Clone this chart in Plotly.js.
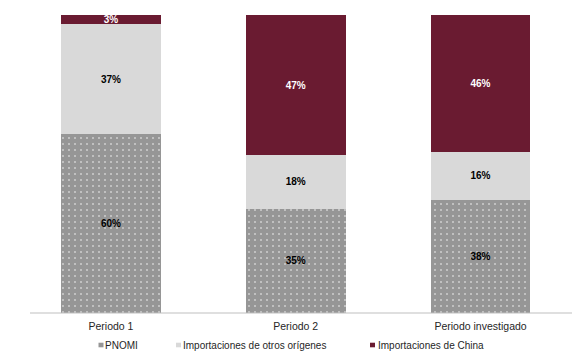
<!DOCTYPE html>
<html>
<head>
<meta charset="utf-8">
<script src="https://cdn.plot.ly/plotly-3.0.1.min.js"></script>
<style>
  html, body { margin: 0; padding: 0; background: #ffffff; }
  #chart { width: 586px; height: 354px; }
</style>
</head>
<body>
<div id="chart"></div>
<script>
// ---- data ----
var categories = ["Periodo 1", "Periodo 2", "Periodo investigado"];
var seriesNames = ["PNOMI", "Importaciones de otros orígenes", "Importaciones de China"];
var pnomi = [60, 35, 38];
var otros = [37, 18, 16];
var china = [3, 47, 46];

// ---- styles ----
var colors = ["#969696", "#d9d9d9", "#6a1b31"];
var textColors = ["#000000", "#000000", "#ffffff"];
var values = [pnomi, otros, china];
var FONT = "Liberation Sans, Arial, sans-serif";

var traces = values.map(function (vals, i) {
  var marker = { color: colors[i], line: { width: 0 } };
  if (i === 0) {
    marker.pattern = { shape: ".", bgcolor: colors[0], fgcolor: "#ffffff", size: 6, solidity: 0.1, fillmode: "overlay" };
  }
  return {
    type: "bar",
    name: seriesNames[i],
    x: categories,
    y: vals,
    width: 0.54,
    marker: marker,
    text: vals.map(function (v) { return v + "%"; }),
    textposition: "inside",
    insidetextanchor: "middle",
    constraintext: "none",
    textfont: { family: FONT, size: 10, color: textColors[i], weight: "bold" },
    hoverinfo: "skip",
    showlegend: false
  };
});

// custom legend (small square markers + labels)
var legendSquares = [0.1264, 0.2694, 0.6273];
var legendText = [0.1384, 0.2828, 0.6415];
var sqW = 0.0092;
var shapes = [
  { type: "line", xref: "paper", yref: "paper", x0: 0, x1: 1, y0: 0, y1: 0,
    line: { color: "#bfbfbf", width: 1 } }
];
var annotations = [];
seriesNames.forEach(function (name, i) {
  shapes.push({ type: "rect", xref: "paper", yref: "paper",
    x0: legendSquares[i], x1: legendSquares[i] + sqW, y0: -0.1151, y1: -0.0997,
    fillcolor: colors[i], line: { width: 0 } });
  annotations.push({ xref: "paper", yref: "paper", x: legendText[i], y: -0.1074,
    xanchor: "left", yanchor: "middle", showarrow: false, text: name, xshift: -2,
    font: { family: FONT, size: 10, color: "#262626" } });
});

var layout = {
  width: 586, height: 354,
  margin: { l: 30, r: 14, t: 15, b: 41, pad: 0 },
  paper_bgcolor: "#ffffff", plot_bgcolor: "#ffffff",
  barmode: "stack",
  showlegend: false,
  xaxis: {
    type: "category",
    range: [-0.438, 2.495],
    showgrid: false, zeroline: false, showline: false,
    ticks: "", ticklen: 0,
    ticklabelstandoff: 5,
    tickfont: { family: FONT, size: 10.5, color: "#262626" },
    fixedrange: true
  },
  yaxis: {
    range: [0, 100],
    showgrid: false, zeroline: false, showline: false,
    showticklabels: false, ticks: "",
    fixedrange: true
  },
  shapes: shapes,
  annotations: annotations
};

Plotly.newPlot("chart", traces, layout, { displayModeBar: false, staticPlot: true });
</script>
</body>
</html>
